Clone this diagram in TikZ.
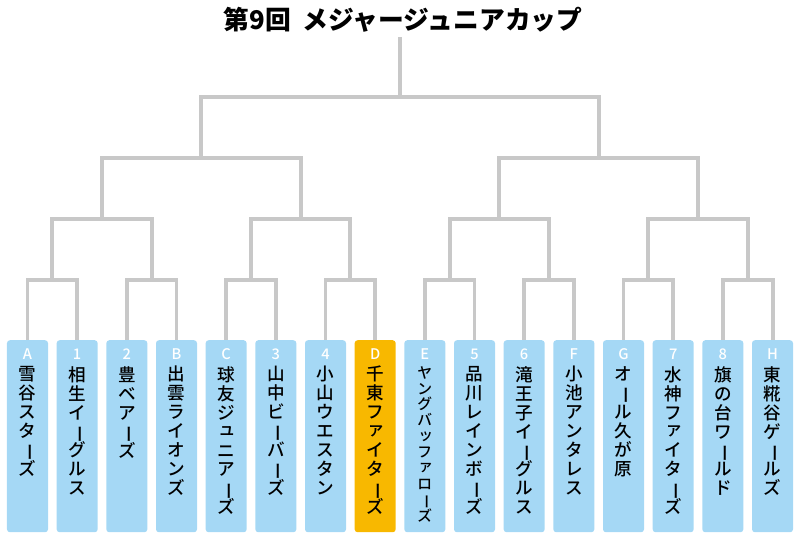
\documentclass[tikz,border=0pt]{standalone}
\usepackage{fontspec}
\usepackage{graphicx}
\IfFontExistsTF{Noto Sans CJK JP Medium}{\newfontfamily\jp{Noto Sans CJK JP Medium}}{\newfontfamily\jp{Noto Sans CJK JP}}
\IfFontExistsTF{Noto Sans CJK JP Black}{\newfontfamily\jptitle{Noto Sans CJK JP Black}}{\newcommand\jptitle{\jp\bfseries}}
\definecolor{linegray}{HTML}{C8C8C8}
\definecolor{teamblue}{HTML}{A5D8F5}
\definecolor{teamgold}{HTML}{F8B800}

% names written top to bottom, one character under the other
\makeatletter
\def\tc@bar{ー}
\newcommand\tatechar[1]{%
  \def\tc@x{#1}%
  \ifx\tc@x\tc@bar
    \hbox to 1em{\hss\rotatebox[origin=c]{-90}{ー}\hss}%
  \else
    \in@{#1}{ァィゥェォッャュョ}%
    \ifin@\hbox to 1em{\hss\kern.14em\raise.12em\hbox{#1}\hss}%
    \else\hbox to 1em{\hss#1\hss}\fi
  \fi}
\def\tatestep#1{\ifx\relax#1\else\tatechar{#1}\expandafter\tatestep\fi}
\newcommand\tate[1]{\vbox{\baselineskip=1.08em\lineskiplimit=-30pt\lineskip=0pt
  \expandafter\tatestep#1\relax}}
\makeatother

\begin{document}
\begin{tikzpicture}[x=0.03cm,y=-0.03cm,
  bracket/.style={draw=linegray,line width=3.4pt},
  team/.style={rounded corners=2.5pt,minimum width=1.23cm,minimum height=5.76cm,anchor=north,inner sep=0pt},
  seed/.style={text=white,font=\jp\fontsize{12.5}{12.5}\selectfont,inner sep=0pt},
  teamname/.style={font=\jp\fontsize{#1pt}{#1pt}\selectfont,anchor=north,inner sep=0pt}]
  \useasboundingbox (0,0) rectangle (800,540);

  \node[font=\jptitle\fontsize{22}{22}\selectfont] (title) at (403,20) {第9回\hspace{0.45em}メジャージュニアカップ};
  \coordinate (cup) at (400,37);
  \coordinate (lv1) at (0,280);
  \coordinate (lv2) at (0,219);
  \coordinate (lv3) at (0,158);
  \coordinate (lv4) at (0,97);

  \foreach \lab/\nm/\col/\fs [count=\i from 0] in {A/雪谷スターズ/teamblue/15, 1/相生イーグルス/teamblue/15,
      2/豊ベアーズ/teamblue/15, B/出雲ライオンズ/teamblue/15, C/球友ジュニアーズ/teamblue/15,
      3/山中ビーバーズ/teamblue/15, 4/小山ウエスタン/teamblue/15, D/千東ファイターズ/teamgold/15,
      E/ヤングバッファローズ/teamblue/12.6, 5/品川レインボーズ/teamblue/15, 6/滝王子イーグルス/teamblue/15,
      F/小池アンタレス/teamblue/15, G/オール久が原/teamblue/15, 7/水神ファイターズ/teamblue/15,
      8/旗の台ワールド/teamblue/15, H/東糀谷ゲールズ/teamblue/15}{
    \pgfmathsetmacro\x{27.5+49.667*\i}
    \node[team,fill=\col] (b\i) at (\x,340) {};
    \node[seed] (t\i) at (\x,354) {\lab};
    \node[teamname=\fs] (n\i) at (\x,366) {\tate{\nm}};
  }

  \foreach \k in {0,...,7}{
    \pgfmathtruncatemacro\a{2*\k}
    \pgfmathtruncatemacro\b{2*\k+1}
    \path (b\a.north) -- (b\b.north) coordinate[midway] (m1-\k);
    \coordinate (r1-\k) at (m1-\k |- lv1);
    \draw[bracket] (b\a.north) |- (r1-\k) -| (b\b.north);
  }
  \foreach \k in {0,...,3}{
    \pgfmathtruncatemacro\a{2*\k}
    \pgfmathtruncatemacro\b{2*\k+1}
    \path (r1-\a) -- (r1-\b) coordinate[midway] (m2-\k);
    \coordinate (r2-\k) at (m2-\k |- lv2);
    \draw[bracket] (r1-\a) |- (r2-\k) -| (r1-\b);
  }
  \foreach \k in {0,1}{
    \pgfmathtruncatemacro\a{2*\k}
    \pgfmathtruncatemacro\b{2*\k+1}
    \path (r2-\a) -- (r2-\b) coordinate[midway] (m3-\k);
    \coordinate (r3-\k) at (m3-\k |- lv3);
    \draw[bracket] (r2-\a) |- (r3-\k) -| (r2-\b);
  }
  \coordinate (final) at (cup |- lv4);
  \draw[bracket] (r3-0) |- (final) -| (r3-1);
  \draw[bracket] (final) -- (cup);
\end{tikzpicture}
\end{document}
